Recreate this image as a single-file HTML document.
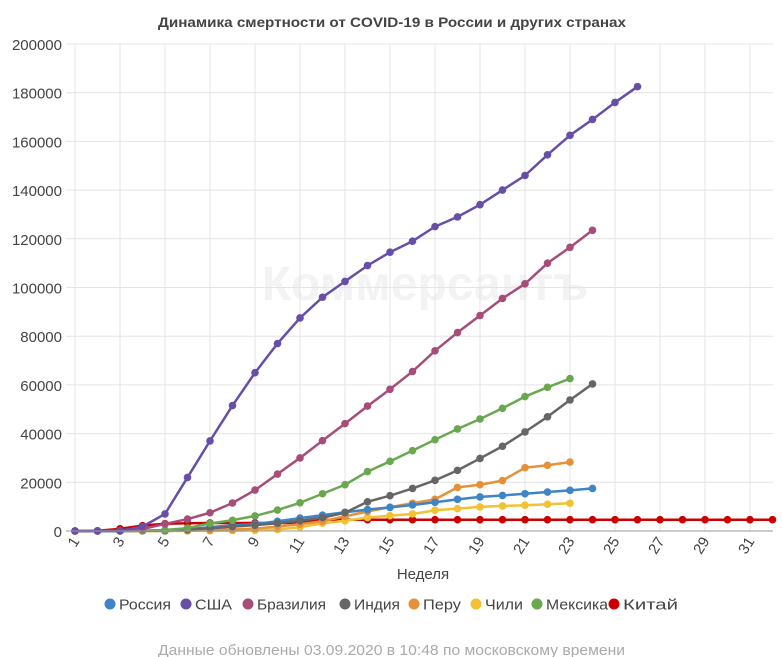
<!DOCTYPE html>
<html><head><meta charset="utf-8">
<style>
body{margin:0;background:#fff;font-family:"Liberation Sans",Arial,sans-serif;}
svg{display:block}
</style></head>
<body>
<svg id="chart" width="782" height="657" xmlns="http://www.w3.org/2000/svg" font-family="Liberation Sans, Arial, sans-serif">
<text x="158" y="27" textLength="468" lengthAdjust="spacingAndGlyphs" font-size="14" font-weight="bold" fill="#444">Динамика смертности от COVID-19 в России и других странах</text>
<text x="425" y="300" text-anchor="middle" font-size="48" font-weight="bold" fill="#f3f3f3">Коммерсантъ</text>
<g id="grid"></g>
<g id="series"></g>
<g id="axes"></g>
<text x="423" y="579" text-anchor="middle" font-size="15" fill="#444">Неделя</text>
<g id="legend"></g>
<text x="158" y="655" textLength="467" lengthAdjust="spacingAndGlyphs" font-size="15" fill="#aaa">Данные обновлены 03.09.2020 в 10:48 по московскому времени</text>
</svg>
<script>
const weeks = Array.from({length:32},(_,i)=>i+1);
const yTicks = [0,20000,40000,60000,80000,100000,120000,140000,160000,180000,200000];
const xTickLabels = [1,3,5,7,9,11,13,15,17,19,21,23,25,27,29,31];
const seriesNames = ["Россия","США","Бразилия","Индия","Перу","Чили","Мексика","Китай"];
const seriesColors = ["#3d85c6","#674ea7","#a64d79","#666666","#e69138","#f1c232","#6aa84f","#cc0000"];
const russia = [0,0,10,60,100,600,1600,2300,2900,4000,5300,6500,7700,8800,9700,10700,11800,13000,14000,14600,15300,16000,16700,17500];
const usa = [0,10,100,1800,7000,22000,37000,51500,65000,77000,87500,96000,102500,109000,114500,119000,125000,129000,134000,140000,146000,154500,162500,169000,176000,182500];
const brazil = [0,0,200,800,2900,4900,7500,11500,16800,23400,30000,37100,44100,51300,58200,65500,74000,81500,88500,95500,101500,110000,116500,123500];
const india = [0,0,0,100,300,600,1100,1800,2400,3200,4200,5500,7500,12000,14500,17500,20800,24900,29800,34800,40700,46900,53800,60400];
const peru = [0,0,0,0,50,150,300,600,1000,1800,2800,4000,6000,8000,9800,11400,13000,17900,19000,20700,26000,27000,28300];
const chile = [0,0,0,0,10,50,100,150,250,600,1600,3200,4200,5500,6300,7000,8500,9200,9900,10300,10600,11000,11400];
const mexico = [0,0,0,100,400,1200,3100,4400,6200,8600,11600,15300,19000,24400,28600,33000,37500,41900,46000,50400,55200,59000,62600];
const china = [0,100,900,2200,3000,3200,3300,3300,3300,3300,3300,4600,4634,4634,4634,4634,4634,4634,4634,4634,4634,4634,4634,4634,4634,4634,4634,4634,4634,4634,4634,4634];
const allSeries = [russia,usa,brazil,india,peru,chile,mexico,china];

const NS="http://www.w3.org/2000/svg";
const X0=75, XW=22.5, Y0=531, YT=44;
const xs = w => X0 + (w-1)*XW;
const ys = v => Y0 - v/200000*(Y0-YT);
function mk(tag, attrs, parent){const e=document.createElementNS(NS,tag);for(const k in attrs)e.setAttribute(k,attrs[k]);parent.appendChild(e);return e;}
const grid=document.getElementById('grid'), axes=document.getElementById('axes'), ser=document.getElementById('series'), leg=document.getElementById('legend');

yTicks.forEach(t=>{
  if(t>0){const l=mk('line',{x1:66,x2:773,y1:ys(t),y2:ys(t),stroke:'#e4e4e4','stroke-width':1},grid);
  
  }
  const tx=mk('text',{x:62,y:ys(t)+6,'text-anchor':'end','font-size':15,fill:'#444'},axes);
  tx.textContent=t;
  
  
});
xTickLabels.forEach(w=>{
  const l=mk('line',{x1:xs(w),x2:xs(w),y1:YT,y2:Y0,stroke:'#e4e4e4','stroke-width':1},grid);
  
  
  const tx=mk('text',{transform:`translate(${xs(w)+5},${Y0+10}) rotate(-58)`,'text-anchor':'end','font-size':15,fill:'#444'},axes);
  tx.textContent=w;
  
  
});
const ax=mk('line',{x1:66,x2:773,y1:Y0,y2:Y0,stroke:'#999','stroke-width':1},axes);



const order=[7,5,4,0,3,6,2,1];
order.forEach(i=>{
  const d=allSeries[i], c=seriesColors[i];
  const g=mk('g',{},ser);
  
  
  const pts=d.map((v,k)=>xs(weeks[k])+','+ys(v)).join(' ');
  const pl=mk('polyline',{points:pts,fill:'none',stroke:c,'stroke-width':2.5,'stroke-linejoin':'round'},g);
  
  
  d.forEach((v,k)=>{
    const p=mk('circle',{cx:xs(weeks[k]),cy:ys(v),r:3.8,fill:c},g);
    
    
  });
});

const legX=[110,186,248,345,414,476,537,614];
const legW=[52,37,69,46,38,38,62,55];
seriesNames.forEach((n,i)=>{
  const g=mk('g',{},leg);
  
  
  mk('circle',{cx:legX[i],cy:604,r:5.5,fill:seriesColors[i]},g);
  const t=mk('text',{x:legX[i]+9,y:609.5,'font-size':15,fill:'#444',textLength:legW[i],lengthAdjust:'spacingAndGlyphs'},g);
  t.textContent=n;
});
</script>
</body></html>
